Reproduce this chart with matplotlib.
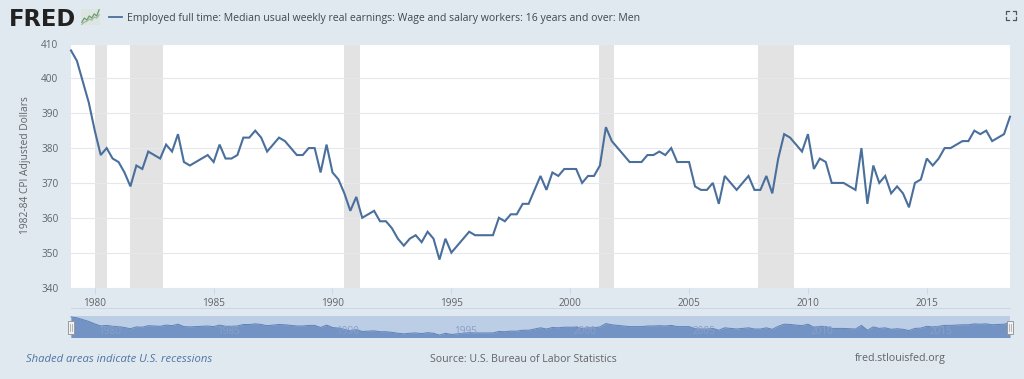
import matplotlib
matplotlib.use("Agg")
import matplotlib.pyplot as plt
from matplotlib.patches import Rectangle
from matplotlib.transforms import blended_transform_factory

plt.rcParams['font.family'] = ['Open Sans', 'DejaVu Sans']

START_YEAR = 1979
values = [
    408, 405, 399, 393,  385, 378, 380, 377,  376, 373, 369, 375,  374, 379, 378, 377,
    381, 379, 384, 376,  375, 376, 377, 378,  376, 381, 377, 377,  378, 383, 383, 385,
    383, 379, 381, 383,  382, 380, 378, 378,  380, 380, 373, 381,  373, 371, 367, 362,
    366, 360, 361, 362,  359, 359, 357, 354,  352, 354, 355, 353,  356, 354, 348, 354,
    350, 352, 354, 356,  355, 355, 355, 355,  360, 359, 361, 361,  364, 364, 368, 372,
    368, 373, 372, 374,  374, 374, 370, 372,  372, 375, 386, 382,  380, 378, 376, 376,
    376, 378, 378, 379,  378, 380, 376, 376,  376, 369, 368, 368,  370, 364, 372, 370,
    368, 370, 372, 368,  368, 372, 367, 377,  384, 383, 381, 379,  384, 374, 377, 376,
    370, 370, 370, 369,  368, 380, 364, 375,  370, 372, 367, 369,  367, 363, 370, 371,
    377, 375, 377, 380,  380, 381, 382, 382,  385, 384, 385, 382,  383, 384, 389,
]
dates = [START_YEAR + i / 4 for i in range(len(values))]
recessions = [(1980.0, 1980.5), (1981.5, 1982.87), (1990.5, 1991.17),
              (2001.2, 2001.83), (2007.92, 2009.42)]
y_ticks = [340, 350, 360, 370, 380, 390, 400, 410]
x_ticks = [1980, 1985, 1990, 1995, 2000, 2005, 2010, 2015]
logo_trend = [1, 3, 2, 4, 3, 5, 4, 7]
logo_trend2 = [0, 1, 1.5, 2.5, 2, 3.5, 3, 4.5]

title = "Employed full time: Median usual weekly real earnings: Wage and salary workers: 16 years and over: Men"
ylabel = "1982-84 CPI Adjusted Dollars"

BG = '#e1e9f0'
LINE = '#4a6f9c'
TEXT = '#606468'
W, H = 1024, 379


def box(l, t, r, b):
    return [l / W, 1 - b / H, (r - l) / W, (b - t) / H]


fig = plt.figure(figsize=(W / 100, H / 100), dpi=100, facecolor=BG)

# main plot
ax = fig.add_axes(box(71, 43.5, 1010, 287.5), facecolor='white')
ax.set_xlim(1979, 2018.5)
ax.set_ylim(340, 410)
for a, b in recessions:
    ax.axvspan(a, b, color='#e3e3e3', lw=0, zorder=1)
ax.set_yticks(y_ticks)
ax.set_xticks(x_ticks)
ax.grid(axis='y', color='#e6e8eb', lw=0.8, zorder=0)
ax.plot(dates, values, color=LINE, lw=1.5, zorder=3, solid_joinstyle='miter', clip_on=False)
for s in ax.spines.values():
    s.set_visible(False)
ax.tick_params(axis='y', length=0, pad=9, labelsize=7.2, labelcolor=TEXT)
ax.tick_params(axis='x', length=4, width=0.7, color='#ccd6eb', pad=3.5, labelsize=7.2, labelcolor=TEXT)
fig.text(26 / W, 1 - 165 / H, ylabel, rotation=90, ha='center', va='center',
         fontsize=7.4, color=TEXT)

# x axis baseline below tick labels
fig.add_artist(plt.Line2D([71 / W, 1010 / W], [1 - 307.5 / H] * 2, color='#ccd6eb', lw=0.8))

# navigator
nav = fig.add_axes(box(71, 316, 1010, 337.5), facecolor='#bccde6')
nav.set_xlim(1979, 2018.5)
nav.set_ylim(340, 411)
nav.axis('off')
nav.add_patch(Rectangle((0, 0), 1, 1, transform=nav.transAxes, color='#bccde6', lw=0, zorder=0))
nav.fill_between(dates, values, 340, color='#7393c4', lw=0, zorder=1)
nav.plot(dates, values, color='#5f82b6', lw=0.7, zorder=2, clip_on=False)
trans = blended_transform_factory(nav.transData, nav.transAxes)
for t in x_ticks:
    nav.text(t + 0.13, 0.28, str(t), ha='left', va='center', fontsize=7.2,
             color='#88a0c8', zorder=4, transform=trans)
for px in (71, 1010):
    fig.add_artist(Rectangle(((px - 3) / W, 1 - 334 / H), 6 / W, 13 / H,
                             transform=fig.transFigure, fc='#f2f2f2', ec='#999999',
                             lw=0.7, zorder=5))
    for off in (-1, 1):
        fig.add_artist(plt.Line2D([(px + off) / W] * 2, [1 - 331 / H, 1 - 324 / H],
                                  color='#999999', lw=0.5, zorder=6))

# header
fig.text(8.5 / W, 1 - 19 / H, "FRED", fontsize=16.3, fontweight='bold', color='#222222',
         ha='left', va='center', family=['DejaVu Sans'])
logo = fig.add_axes(box(81, 9, 100, 25), facecolor='#dde5e0')
logo.plot(range(len(logo_trend)), logo_trend, color='#6d9a6d', lw=0.9)
logo.plot(range(len(logo_trend2)), logo_trend2, color='#9db89d', lw=0.9)
logo.set_xticks([])
logo.set_yticks([])
for s in logo.spines.values():
    s.set_visible(False)
fig.add_artist(plt.Line2D([109 / W, 122 / W], [1 - 17 / H] * 2, color=LINE, lw=1.3))
fig.text(127 / W, 1 - 18 / H, title, fontsize=7.6, color='#3f4850', ha='left', va='center')

# fullscreen icon
for cx, cy, dx, dy in [(1006, 11, 1, 1), (1016, 11, -1, 1), (1006, 20, 1, -1), (1016, 20, -1, -1)]:
    fig.add_artist(plt.Line2D([(cx + 3 * dx) / W, cx / W, cx / W],
                              [1 - cy / H, 1 - cy / H, 1 - (cy + 3 * dy) / H],
                              color='#555555', lw=0.9))

# footer
fig.text(26 / W, 1 - 359 / H, "Shaded areas indicate U.S. recessions", fontsize=8.1,
         style='italic', color='#4f74a3', ha='left', va='center')
fig.text(523.5 / W, 1 - 359 / H, "Source: U.S. Bureau of Labor Statistics", fontsize=7.6,
         color=TEXT, ha='center', va='center')
fig.text(855 / W, 1 - 359 / H, "fred.stlouisfed.org", fontsize=7.7, color=TEXT, ha='left', va='center')

fig.savefig('out.png', dpi=100, facecolor=BG)
